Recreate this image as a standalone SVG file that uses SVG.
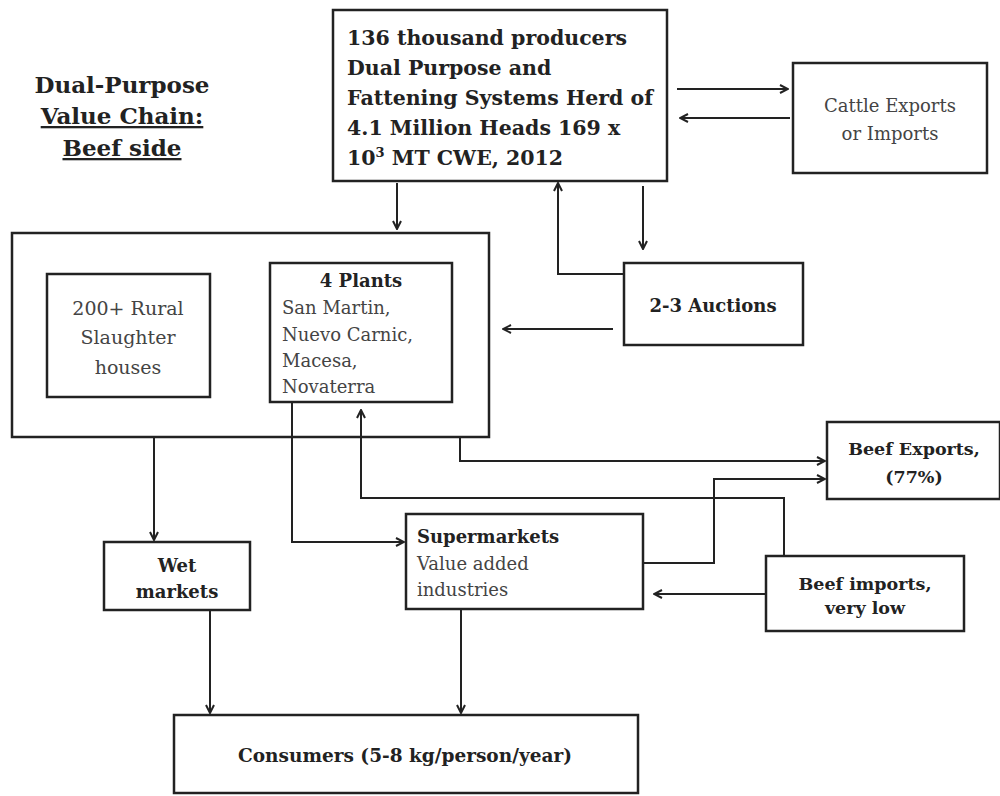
<svg xmlns="http://www.w3.org/2000/svg" width="1000" height="796" viewBox="0 0 1000 796">
<defs>
<marker id="ah" viewBox="0 0 10 10" refX="9" refY="5" markerWidth="10" markerHeight="10" markerUnits="userSpaceOnUse" orient="auto">
<path d="M1,1 L9,5 L1,9" fill="none" stroke="#222" stroke-width="2"/>
</marker>
<style>
.box{fill:#fff;stroke:#222;stroke-width:2.5}
.c{fill:none;stroke:#222;stroke-width:2;marker-end:url(#ah)}
.b{font-family:"DejaVu Serif","Liberation Serif",serif;font-weight:bold;fill:#222}
.r{font-family:"DejaVu Serif","Liberation Serif",serif;fill:#444}
.m{text-anchor:middle}
</style>
</defs>
<rect width="1000" height="796" fill="#fff"/>

<g id="title" class="b m" font-size="23">
<text x="122" y="93">Dual-Purpose</text>
<text x="122" y="124" text-decoration="underline">Value Chain:</text>
<text x="122" y="156" text-decoration="underline">Beef side</text>
</g>

<g id="producers">
<rect class="box" x="333" y="10" width="334" height="171"/>
<g class="b" font-size="20.5">
<text x="347" y="45">136 thousand producers</text>
<text x="347" y="75">Dual Purpose and</text>
<text x="347" y="105">Fattening Systems Herd of</text>
<text x="347" y="135">4.1 Million Heads 169 x</text>
<text x="347" y="165">10<tspan font-size="13" dy="-8">3</tspan><tspan dy="8"> MT CWE, 2012</tspan></text>
</g>
</g>

<g id="cattle">
<rect class="box" x="793" y="63" width="194" height="110"/>
<g class="r m" font-size="18">
<text x="890" y="112">Cattle Exports</text>
<text x="890" y="140">or Imports</text>
</g>
</g>

<g id="slaughter">
<rect class="box" x="12" y="233" width="477" height="204"/>
</g>

<g id="rural">
<rect class="box" x="47" y="274" width="163" height="123"/>
<g class="r m" font-size="19">
<text x="128" y="315">200+ Rural</text>
<text x="128" y="344">Slaughter</text>
<text x="128" y="374">houses</text>
</g>
</g>

<g id="plants">
<rect class="box" x="270" y="263" width="182" height="139"/>
<text class="b m" x="361" y="287" font-size="18">4 Plants</text>
<g class="r" font-size="18">
<text x="282" y="314">San Martin,</text>
<text x="282" y="341">Nuevo Carnic,</text>
<text x="282" y="367">Macesa,</text>
<text x="282" y="393">Novaterra</text>
</g>
</g>

<g id="auctions">
<rect class="box" x="624" y="263" width="179" height="82"/>
<text class="b m" x="713" y="312" font-size="18">2-3 Auctions</text>
</g>

<g id="exports">
<rect class="box" x="827" y="422" width="173" height="77"/>
<g class="b m" font-size="17.5">
<text x="914" y="455">Beef Exports,</text>
<text x="914" y="483">(77%)</text>
</g>
</g>

<g id="wet">
<rect class="box" x="104" y="542" width="146" height="68"/>
<g class="b m" font-size="18">
<text x="177" y="572">Wet</text>
<text x="177" y="598">markets</text>
</g>
</g>

<g id="supermarkets">
<rect class="box" x="406" y="514" width="237" height="95"/>
<text class="b" x="417" y="543" font-size="18">Supermarkets</text>
<g class="r" font-size="18">
<text x="417" y="570">Value added</text>
<text x="417" y="596">industries</text>
</g>
</g>

<g id="imports">
<rect class="box" x="766" y="556" width="198" height="75"/>
<g class="b m" font-size="17.5">
<text x="865" y="590">Beef imports,</text>
<text x="865" y="614">very low</text>
</g>
</g>

<g id="consumers">
<rect class="box" x="174" y="715" width="464" height="78"/>
<text class="b m" x="405" y="762" font-size="18.5">Consumers (5-8 kg/person/year)</text>
</g>

<g id="connectors">
<path class="c" d="M677,89 H788"/>
<path class="c" d="M790,118 H680"/>
<path class="c" d="M397,183 V229"/>
<path class="c" d="M643,186 V249"/>
<path class="c" d="M624,274 H558 V183"/>
<path class="c" d="M613,329 H503"/>
<path class="c" d="M154,437 V540"/>
<path class="c" d="M292,402 V542 H404"/>
<path class="c" d="M784,556 V498 H361 V410"/>
<path class="c" d="M460,437 V461 H825"/>
<path class="c" d="M643,563 H714 V479 H825"/>
<path class="c" d="M766,594 H654"/>
<path class="c" d="M210,610 V713"/>
<path class="c" d="M461,609 V713"/>
</g>
</svg>
